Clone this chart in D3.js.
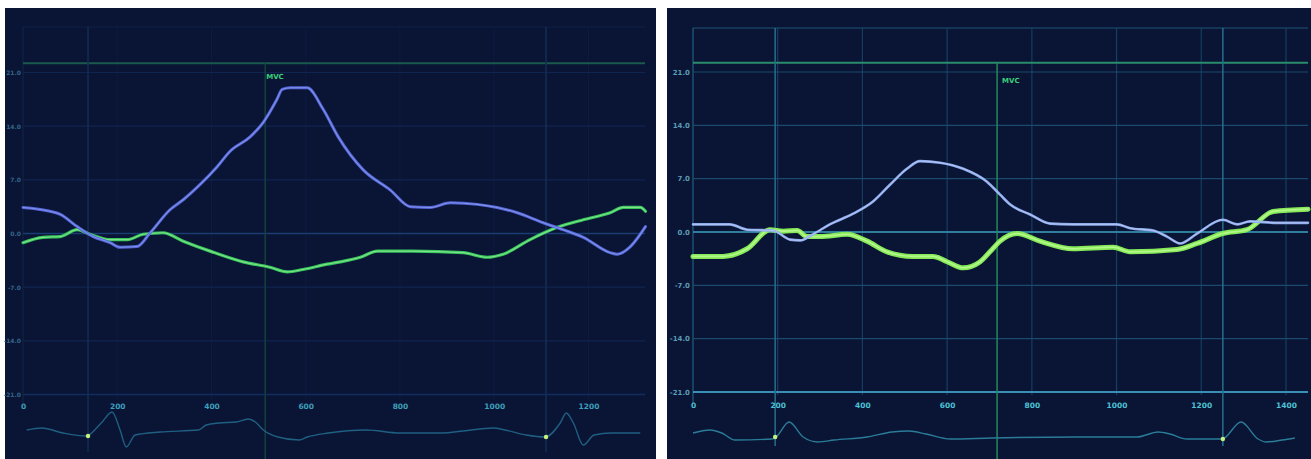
<!DOCTYPE html>
<html>
<head>
<meta charset="utf-8">
<script src="https://cdn.jsdelivr.net/npm/d3@7/dist/d3.min.js"></script>
<style>
  html, body { margin: 0; padding: 0; background: #ffffff; }
  svg { display: block; }
  text { font-family: "DejaVu Sans", sans-serif; }
</style>
</head>
<body>
<svg id="chart" width="1311" height="459"></svg>
<script>
// ---- shared axis values ----
const yTicks = [21, 14, 7, 0, -7, -14, -21];
const xTicksLeft = [0, 200, 400, 600, 800, 1000, 1200];
const xTicksRight = [0, 200, 400, 600, 800, 1000, 1200, 1400];
const mvcLabel = "MVC";

// ---- left recording: time (ms) and value ----
const leftBlueX = [0, 57, 79, 115, 149, 185, 206, 242, 270, 312, 340, 376, 412, 439, 482, 510, 539, 550, 567, 603, 637, 669, 722, 779, 822, 864, 907, 964, 1006, 1049, 1104, 1146, 1189, 1246, 1261, 1289, 1321];
const leftBlueY = [3.4, 2.9, 2.5, 0.9, -0.4, -1.2, -1.8, -1.7, 0.1, 3.1, 4.4, 6.4, 8.7, 10.7, 12.6, 14.5, 17.5, 18.8, 19.0, 19.0, 16.2, 12.6, 8.3, 5.7, 3.5, 3.4, 4.0, 3.8, 3.4, 2.7, 1.4, 0.5, -0.5, -2.5, -2.7, -1.7, 0.9];
const leftGreenX = [0, 42, 79, 115, 142, 185, 221, 255, 297, 340, 397, 467, 524, 561, 594, 645, 673, 716, 752, 828, 934, 985, 1019, 1076, 1134, 1189, 1246, 1274, 1310, 1321];
const leftGreenY = [-1.2, -0.5, -0.4, 0.5, -0.1, -0.8, -0.8, -0.1, 0.1, -1.0, -2.3, -3.7, -4.4, -5.0, -4.7, -4.0, -3.7, -3.1, -2.3, -2.3, -2.5, -3.1, -2.7, -0.8, 0.8, 1.8, 2.7, 3.4, 3.4, 2.9];
const leftEcgX = [8, 40, 85, 134, 166, 189, 206, 219, 238, 291, 372, 389, 416, 452, 478, 493, 510, 541, 586, 603, 648, 728, 800, 890, 934, 998, 1023, 1068, 1108, 1140, 1153, 1168, 1189, 1212, 1248, 1310];
const leftEcgY = [0.1, 0.2, -0.05, -0.2, 0.45, 1.0, 0.1, -0.75, -0.15, 0, 0.1, 0.35, 0.45, 0.5, 0.65, 0.5, 0.1, -0.25, -0.4, -0.25, -0.05, 0.1, -0.05, -0.05, 0.05, 0.2, 0.1, -0.15, -0.25, 0.45, 0.95, 0.45, -0.65, -0.15, -0.05, -0.05];
const leftMarkers = [138, 1110];
const leftMvc = 514;

// ---- right recording ----
const rightBlueX = [0, 87, 128, 189, 229, 253, 283, 323, 378, 425, 465, 505, 536, 583, 638, 694, 725, 749, 796, 843, 897, 1001, 1032, 1086, 1119, 1150, 1190, 1251, 1285, 1315, 1379, 1452];
const rightBlueY = [1.0, 1.0, 0.3, 0.2, -1.0, -1.1, -0.3, 1.0, 2.4, 4.0, 6.2, 8.3, 9.3, 9.1, 8.3, 6.6, 4.9, 3.6, 2.3, 1.1, 1.0, 1.0, 0.5, 0.2, -0.6, -1.5, -0.2, 1.6, 1.0, 1.4, 1.2, 1.2];
const rightGreenX = [0, 71, 128, 182, 213, 246, 269, 300, 364, 411, 458, 519, 567, 600, 638, 678, 701, 725, 765, 819, 897, 992, 1032, 1143, 1190, 1251, 1308, 1370, 1452];
const rightGreenY = [-3.2, -3.2, -2.2, 0.3, 0.1, 0.2, -0.6, -0.6, -0.3, -1.2, -2.6, -3.2, -3.2, -3.9, -4.7, -3.9, -2.6, -1.2, -0.2, -1.2, -2.2, -2.0, -2.6, -2.3, -1.5, -0.2, 0.3, 2.7, 3.0];
const rightEcgX = [0, 40, 68, 99, 187, 196, 227, 260, 295, 333, 411, 470, 510, 550, 607, 706, 902, 1048, 1098, 1126, 1166, 1249, 1294, 1334, 1353, 1391, 1421];
const rightEcgY = [0.2, 0.35, 0.2, -0.15, -0.1, 0, 0.75, 0, -0.25, -0.15, 0, 0.25, 0.3, 0.15, -0.1, -0.05, 0, 0, 0.25, 0.15, -0.1, -0.1, 0.75, -0.1, -0.25, -0.15, -0.05];
const rightMarkers = [194, 1251];
const rightMvc = 718;
const refLevel = 22.2;

const svg = d3.select("#chart");

const zip = (xs, ys) => xs.map((x, i) => [x, ys[i]]);

function drawPanel(p) {
  const g = svg.append("g");
  g.append("rect")
    .attr("x", p.bg[0]).attr("y", p.bg[1])
    .attr("width", p.bg[2]).attr("height", p.bg[3])
    .attr("fill", "#0a1434");

  const x = d3.scaleLinear().domain([0, p.xMax]).range(p.xRange);
  const y = d3.scaleLinear().domain([-21, 21]).range(p.yRange);
  const e = d3.scaleLinear().domain([-1, 1]).range(p.ecgRange);

  const [xa, xb] = p.xRange;
  const yTop = p.frameTop;

  // outer frame
  g.append("line").attr("x1", xa).attr("x2", xb).attr("y1", yTop).attr("y2", yTop)
    .attr("stroke", p.frameColor).attr("stroke-width", 1.2);
  g.append("line").attr("x1", xa).attr("x2", xa).attr("y1", yTop).attr("y2", y(-21) + 12)
    .attr("stroke", p.frameColor).attr("stroke-width", 1.4);

  // vertical grid at x ticks
  g.append("g").selectAll("line").data(p.xTicks.slice(1)).join("line")
    .attr("x1", d => x(d)).attr("x2", d => x(d))
    .attr("y1", yTop).attr("y2", p.vGridBottom)
    .attr("stroke", p.vGridColor).attr("stroke-width", 1.2);

  // horizontal grid at y ticks
  g.append("g").selectAll("line").data(yTicks).join("line")
    .attr("x1", xa).attr("x2", xb)
    .attr("y1", d => y(d)).attr("y2", d => y(d))
    .attr("stroke", d => d === 0 ? p.zeroColor : (d === -21 ? p.axisColor : p.hGridColor))
    .attr("stroke-width", d => d === 0 ? p.zeroWidth : (d === -21 ? p.axisWidth : 1.2));

  // reference level line
  g.append("line").attr("x1", xa).attr("x2", xb)
    .attr("y1", y(refLevel)).attr("y2", y(refLevel))
    .attr("stroke", p.refColor).attr("stroke-width", 2);

  // cycle markers
  g.append("g").selectAll("line").data(p.markers).join("line")
    .attr("x1", d => x(d)).attr("x2", d => x(d))
    .attr("y1", yTop).attr("y2", p.markerBottom)
    .attr("stroke", p.markerColor).attr("stroke-width", 1.5);

  // MVC marker
  g.append("line").attr("x1", x(p.mvc)).attr("x2", x(p.mvc))
    .attr("y1", y(refLevel)).attr("y2", p.bg[1] + p.bg[3])
    .attr("stroke", p.mvcColor).attr("stroke-width", 1.5);
  g.append("text").attr("x", x(p.mvc) + p.mvcDx).attr("y", p.mvcY)
    .attr("fill", "#3bd07a").attr("font-size", 7).attr("font-weight", "bold")
    .text(mvcLabel);

  // y axis labels
  const yAxis = d3.axisLeft(y).tickValues(yTicks).tickSize(0).tickPadding(p.yPad)
    .tickFormat(d => d.toFixed(1));
  const ya = g.append("g").attr("transform", `translate(${xa},0)`).call(yAxis);
  ya.select(".domain").remove();
  ya.selectAll("text").attr("fill", p.yLabelColor).attr("font-size", p.yFont)
    .attr("font-weight", "bold").attr("font-family", p.yFamily);

  // x axis labels
  const xAxis = d3.axisBottom(x).tickValues(p.xTicks).tickSize(0).tickPadding(p.xPad)
    .tickFormat(d3.format("d"));
  const xg = g.append("g").attr("transform", `translate(0,${y(-21)})`).call(xAxis);
  xg.select(".domain").remove();
  xg.selectAll("text").attr("fill", p.xLabelColor).attr("font-size", 7.5)
    .attr("font-weight", "bold").attr("font-family", "DejaVu Sans");

  // ECG strip
  const ecgLine = d3.line().x(d => x(d[0])).y(d => e(d[1])).curve(d3.curveMonotoneX);
  g.append("path").datum(zip(p.ecgX, p.ecgY))
    .attr("d", ecgLine).attr("fill", "none")
    .attr("stroke", p.ecgColor).attr("stroke-width", 1.4);
  g.append("g").selectAll("circle").data(p.markers).join("circle")
    .attr("cx", d => x(d))
    .attr("cy", d => e(p.ecgY[d3.bisectCenter(p.ecgX, d)]))
    .attr("r", 2.2).attr("fill", "#c6f37e");

  // signal curves
  const line = d3.line().x(d => x(d[0])).y(d => y(d[1])).curve(d3.curveMonotoneX);
  p.series.forEach(s => {
    g.append("path").datum(zip(s.x, s.y))
      .attr("d", line).attr("fill", "none")
      .attr("stroke", s.color).attr("stroke-width", s.width)
      .attr("stroke-linejoin", "round").attr("stroke-linecap", "round");
    if (s.core) {
      g.append("path").datum(zip(s.x, s.y))
        .attr("d", line).attr("fill", "none")
        .attr("stroke", s.core).attr("stroke-width", s.width * 0.35)
        .attr("stroke-linejoin", "round").attr("stroke-linecap", "round")
        .attr("opacity", 0.7);
    }
  });
}

drawPanel({
  bg: [5, 8, 651, 451],
  xMax: 1320, xRange: [23, 645], yRange: [394.5, 72.5], ecgRange: [452, 412],
  frameTop: 27, frameColor: "#0f2148",
  xTicks: xTicksLeft, vGridColor: "#0d1b40", vGridBottom: 400,
  hGridColor: "#102450", zeroColor: "#1b3c72", zeroWidth: 1.4,
  axisColor: "#132c60", axisWidth: 1.4,
  refColor: "#1a5a4c",
  markers: leftMarkers, markerColor: "#132e55", markerBottom: 452,
  mvc: leftMvc, mvcColor: "#14403c", mvcDx: 1, mvcY: 79,
  yLabelColor: "#35668a", yFont: 6, yFamily: "Liberation Sans", yPad: 2,
  xLabelColor: "#3d9fba", xPad: 9,
  ecgX: leftEcgX, ecgY: leftEcgY, ecgColor: "#1f5f82",
  series: [
    { x: leftGreenX, y: leftGreenY, color: "#34c45a", core: "#9ff0a0", width: 3.2 },
    { x: leftBlueX, y: leftBlueY, color: "#5564d8", core: "#8fa6f0", width: 3.0 }
  ]
});

drawPanel({
  bg: [667, 8, 644, 451],
  xMax: 1452, xRange: [693, 1308], yRange: [392, 72], ecgRange: [457, 417],
  frameTop: 28, frameColor: "#1d5576",
  xTicks: xTicksRight, vGridColor: "#163e60", vGridBottom: 395,
  hGridColor: "#1a4a6c", zeroColor: "#2f7e9e", zeroWidth: 2,
  axisColor: "#3a8fb6", axisWidth: 2,
  refColor: "#2a8c6a",
  markers: rightMarkers, markerColor: "#23708e", markerBottom: 446,
  mvc: rightMvc, mvcColor: "#24885a", mvcDx: 5, mvcY: 83,
  yLabelColor: "#5a9cb6", yFont: 7, yFamily: "DejaVu Sans", yPad: 3,
  xLabelColor: "#4cc2d4", xPad: 11,
  ecgX: rightEcgX, ecgY: rightEcgY, ecgColor: "#2a7c98",
  series: [
    { x: rightGreenX, y: rightGreenY, color: "#86ea58", core: "#c8fca0", width: 5 },
    { x: rightBlueX, y: rightBlueY, color: "#8eaaea", core: "#c4d4ff", width: 2.6 }
  ]
});
</script>
</body>
</html>
